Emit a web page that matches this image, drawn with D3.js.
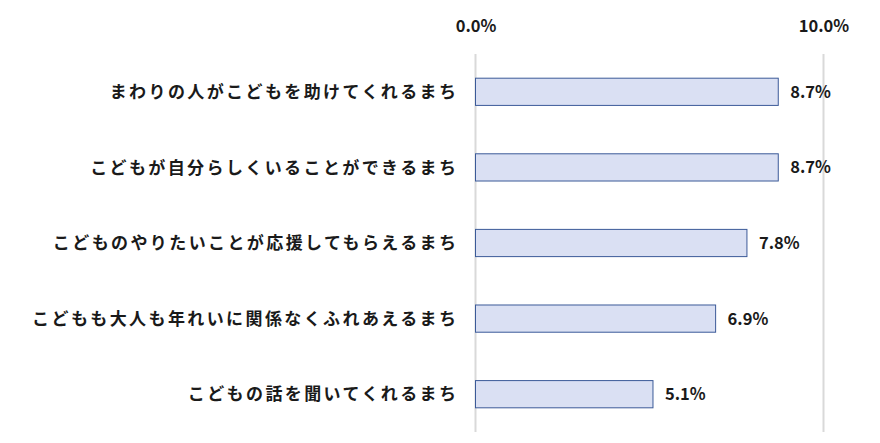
<!DOCTYPE html>
<html><head><meta charset="utf-8">
<script src="https://cdn.jsdelivr.net/npm/d3@7/dist/d3.min.js"></script>
<style>
body{margin:0;background:#fff;}
text{font-family:"Noto Sans CJK JP","Noto Sans",sans-serif;font-weight:bold;fill:#1a1a1a;}
</style></head><body>
<svg id="c" width="880" height="443"></svg>
<script>
const categories = [
  "まわりの人がこどもを助けてくれるまち",
  "こどもが自分らしくいることができるまち",
  "こどものやりたいことが応援してもらえるまち",
  "こどもも大人も年れいに関係なくふれあえるまち",
  "こどもの話を聞いてくれるまち"
];
const values = [8.7, 8.7, 7.8, 6.9, 5.1];
const tickValues = [0, 10];

const svg = d3.select("#c");
const x = d3.scaleLinear().domain([0, 10]).range([475.5, 823.5]);
const y = d3.scaleBand().domain(categories).range([54, 432]).paddingInner(0.64).paddingOuter(0.32);

// gridlines
svg.append("g").selectAll("line").data(tickValues).join("line")
  .attr("x1", d => x(d)).attr("x2", d => x(d))
  .attr("y1", 54).attr("y2", 432)
  .attr("stroke", "#d9d9d9").attr("stroke-width", 2);

// axis labels on top
const axis = d3.axisTop(x).tickValues(tickValues).tickFormat(d => d3.format(".1f")(d) + "%").tickSize(0).tickPadding(0);
const ag = svg.append("g").attr("transform", "translate(0,32)").call(axis);
ag.select(".domain").remove();
ag.selectAll("text").attr("font-size", 16.5).style("font-family", '"Noto Sans CJK JP",sans-serif').style("font-weight", "bold").attr("fill", "#1a1a1a");

// bars
svg.append("g").selectAll("rect").data(values).join("rect")
  .attr("x", x(0)).attr("y", (d, i) => y(categories[i]))
  .attr("width", d => x(d) - x(0)).attr("height", y.bandwidth())
  .attr("fill", "#dae0f3").attr("stroke", "#3b5a98").attr("stroke-width", 1);

// value labels
svg.append("g").selectAll("text").data(values).join("text")
  .attr("x", d => x(d) + 12).attr("y", (d, i) => y(categories[i]) + y.bandwidth() / 2)
  .attr("dy", "0.36em").attr("font-size", 16.5)
  .text(d => d.toFixed(1) + "%");

// category labels
const ls = 2.4;
svg.append("g").selectAll("text").data(categories).join("text")
  .attr("x", 456 + ls).attr("y", d => y(d) + y.bandwidth() / 2)
  .attr("dy", "0.36em").attr("text-anchor", "end").attr("font-size", 17)
  .style("letter-spacing", ls + "px")
  .text(d => d);
</script></body></html>
